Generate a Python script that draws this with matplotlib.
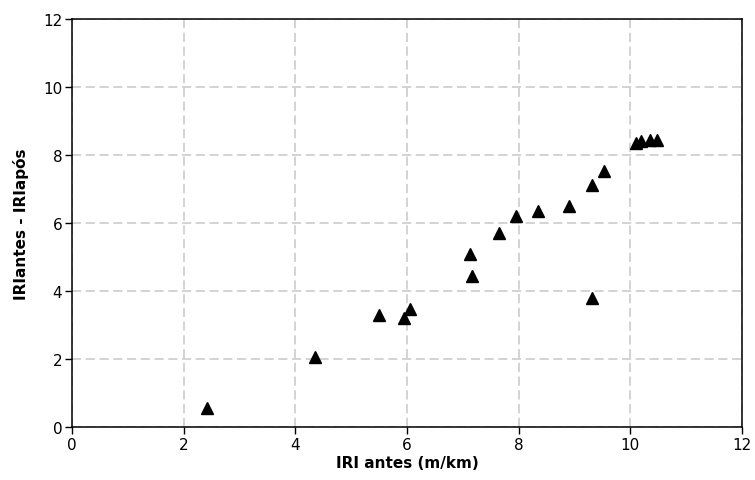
import matplotlib.pyplot as plt

# IRI before treatment (m/km) and IRI reduction
iri_antes = [2.42, 4.35, 5.50, 5.95, 6.05, 7.16, 7.12, 7.65, 7.95, 8.35,
             8.90, 9.31, 9.53, 9.31, 10.10, 10.19, 10.35, 10.48]
iri_diff = [0.56, 2.06, 3.30, 3.22, 3.47, 4.45, 5.09, 5.70, 6.22, 6.35,
            6.51, 7.12, 7.54, 3.79, 8.35, 8.42, 8.46, 8.46]

xticks = [0, 2, 4, 6, 8, 10, 12]
yticks = [0, 2, 4, 6, 8, 10, 12]

plt.rcParams['font.family'] = ['DejaVu Sans']

fig = plt.figure(figsize=(7.55, 4.81), dpi=100)
ax = fig.add_axes([0.0954, 0.110, 0.8874, 0.848])

ax.plot(iri_antes, iri_diff, linestyle='none', marker='^', markersize=8,
        color='black', zorder=3)

ax.set_xlim(0, 12)
ax.set_ylim(0, 12)
ax.set_xticks(xticks)
ax.set_yticks(yticks)
ax.grid(True, color='#c8c8c8', linestyle=(0, (6, 3)), linewidth=1.1)
ax.set_axisbelow(True)

ax.tick_params(direction='out', length=5, width=1, labelsize=11, pad=2)
for s in ax.spines.values():
    s.set_linewidth(1.1)

ax.set_xlabel('IRI antes (m/km)', fontsize=11, fontweight='bold', labelpad=2)
ax.set_ylabel('IRIantes - IRIapós', fontsize=11, fontweight='bold', labelpad=10)

fig.savefig('out.png', dpi=100)
